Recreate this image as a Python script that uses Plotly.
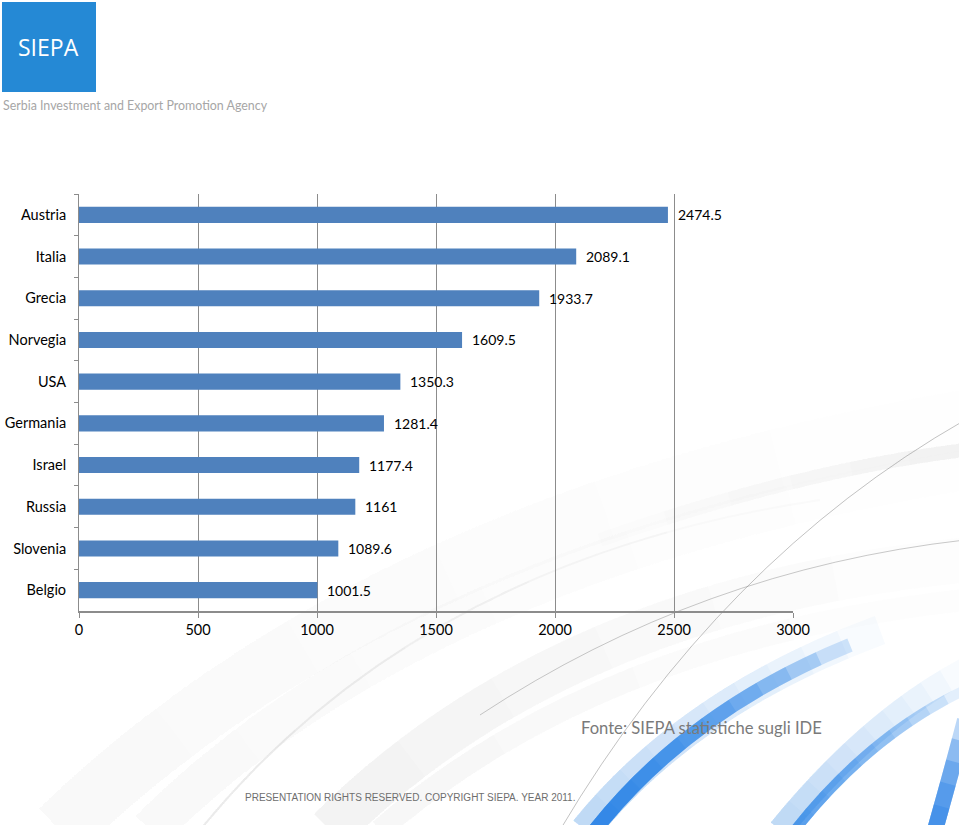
import plotly.graph_objects as go

# ---- data ----
countries = ["Austria", "Italia", "Grecia", "Norvegia", "USA",
             "Germania", "Israel", "Russia", "Slovenia", "Belgio"]
values = [2474.5, 2089.1, 1933.7, 1609.5, 1350.3,
          1281.4, 1177.4, 1161, 1089.6, 1001.5]
x_ticks = [0, 500, 1000, 1500, 2000, 2500, 3000]

W, H = 959, 825
L, R, T, B = 79, 166, 194, 214
PW, PH = W - L - R, H - T - B

def px(x):
    return (x - L) / PW

def py(y):
    return (H - B - y) / PH

shapes = []

def swoosh(p0, p1, p2, rgb, width, alpha, n=1):
    """Decorative quadratic curve; with n>1 it fades out toward p2 by stacking
    sub-curves (0..k/n) of small opacity."""
    a = 1 - (1 - alpha) ** (1.0 / n)
    for k in range(1, n + 1):
        t = k / n
        c1 = ((1 - t) * p0[0] + t * p1[0], (1 - t) * p0[1] + t * p1[1])
        e = ((1 - t) ** 2 * p0[0] + 2 * (1 - t) * t * p1[0] + t * t * p2[0],
             (1 - t) ** 2 * p0[1] + 2 * (1 - t) * t * p1[1] + t * t * p2[1])
        d = (f"M {px(p0[0]):.4f},{py(p0[1]):.4f} "
             f"Q {px(c1[0]):.4f},{py(c1[1]):.4f} {px(e[0]):.4f},{py(e[1]):.4f}")
        shapes.append(dict(type="path", xref="paper", yref="paper", layer="below",
                           path=d, line=dict(color=f"rgba({rgb},{a:.3f})", width=width)))

# grey background swooshes (soft)
swoosh((60, 830), (380, 520), (965, 420), "200,200,200", 60, 0.10, 6)
swoosh((150, 830), (420, 560), (965, 470), "190,190,190", 40, 0.12, 6)
swoosh((330, 830), (560, 600), (965, 560), "180,180,180", 45, 0.15, 6)
swoosh((380, 830), (600, 640), (965, 600), "170,170,170", 22, 0.10, 4)
swoosh((480, 715), (700, 570), (965, 540), "120,120,120", 1, 0.40)
swoosh((560, 830), (720, 560), (965, 420), "120,120,120", 1, 0.45)
swoosh((200, 830), (420, 560), (820, 500), "150,150,150", 2, 0.18, 5)
swoosh((965, 450), (800, 470), (600, 540), "170,170,170", 14, 0.14, 6)

# blue swooshes
swoosh((585, 830), (690, 700), (880, 630), "70,150,235", 30, 0.30, 10)
swoosh((595, 830), (690, 710), (850, 645), "40,130,230", 14, 0.90, 10)
swoosh((780, 830), (870, 720), (965, 670), "70,150,235", 24, 0.30, 10)
swoosh((795, 830), (870, 735), (965, 690), "40,130,230", 10, 0.75, 10)
swoosh((935, 830), (952, 770), (965, 720), "40,130,230", 16, 0.85, 5)

# logo box
shapes.append(dict(type="rect", xref="paper", yref="paper", layer="above",
                   x0=px(2), x1=px(96), y0=py(92), y1=py(2),
                   fillcolor="#2589d5", line=dict(width=0)))

fig = go.Figure(go.Bar(
    x=values, y=countries, orientation="h",
    marker=dict(color="#4f81bd", line=dict(width=0)),
    hoverinfo="x+y",
))

annotations = []
for c, v in zip(countries, values):
    annotations.append(dict(x=v, y=c, xref="x", yref="y", text=f"{v:g}",
                            showarrow=False, xanchor="left", xshift=8,
                            font=dict(family="Lato, Carlito, sans-serif", size=14, color="#000")))

annotations += [
    dict(x=px(48), y=py(47), xref="paper", yref="paper", text="SIEPA",
         showarrow=False, xanchor="center", yanchor="middle",
         font=dict(family="Open Sans, sans-serif", size=23, color="#ffffff")),
    dict(x=px(1), y=py(105), xref="paper", yref="paper",
         text="Serbia Investment and Export Promotion Agency",
         showarrow=False, xanchor="left", yanchor="middle",
         font=dict(family="Lato, sans-serif", size=12.4, color="#a6a6a6")),
    dict(x=px(701), y=py(728), xref="paper", yref="paper",
         text="Fonte: SIEPA statistiche sugli IDE",
         showarrow=False, xanchor="center", yanchor="middle",
         font=dict(family="Lato, sans-serif", size=16.6, color="#7a7a7a")),
    dict(x=px(410), y=py(797), xref="paper", yref="paper",
         text="PRESENTATION RIGHTS RESERVED. COPYRIGHT SIEPA. YEAR 2011.",
         showarrow=False, xanchor="center", yanchor="middle",
         font=dict(family="Liberation Sans Narrow, Liberation Sans, sans-serif", size=10, color="#6e6e6e")),
]

fig.update_layout(
    width=W, height=H,
    margin=dict(l=L, r=R, t=T, b=B),
    paper_bgcolor="#ffffff", plot_bgcolor="rgba(0,0,0,0)",
    bargap=0.615,
    showlegend=False,
    shapes=shapes,
    annotations=annotations,
    font=dict(family="Lato, Carlito, sans-serif", size=14, color="#000"),
    xaxis=dict(range=[0, 3000], tickvals=x_ticks, ticktext=[str(t) for t in x_ticks],
               showgrid=True, gridcolor="#8c8c8c", gridwidth=1,
               showline=True, linecolor="#8c8c8c", linewidth=1.5,
               ticks="outside", ticklen=5, tickcolor="#8c8c8c",
               zeroline=False, fixedrange=True, automargin=False,
               tickfont=dict(size=14.5, color="#000")),
    yaxis=dict(categoryorder="array", categoryarray=countries, autorange="reversed",
               showline=True, linecolor="#8c8c8c", linewidth=1,
               ticks="outside", ticklen=4, tickcolor="#8c8c8c", tickson="boundaries",
               ticklabelstandoff=9, automargin=False,
               showgrid=False, fixedrange=True,
               tickfont=dict(size=14.5, color="#000")),
)

fig.write_html("out.html", config={"displayModeBar": False},
               post_script="document.body.style.margin='0';document.body.style.padding='0';"
                           "window.dispatchEvent(new Event('resize'));")
